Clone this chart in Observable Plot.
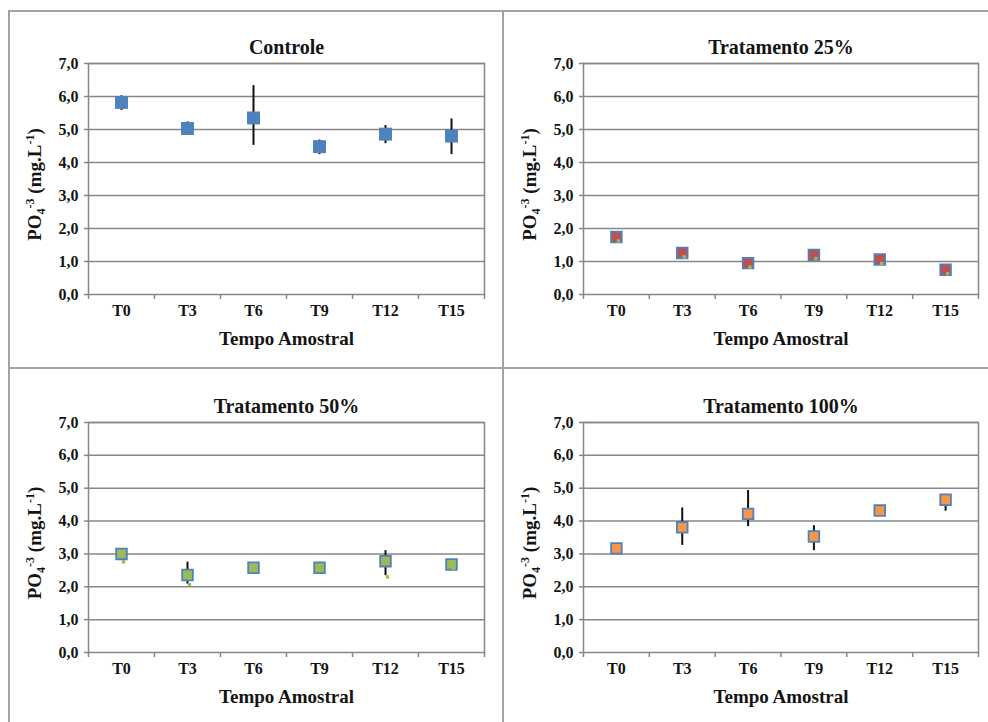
<!DOCTYPE html>
<html>
<head>
<meta charset="utf-8">
<script src="https://cdn.jsdelivr.net/npm/d3@7"></script>
<script src="https://cdn.jsdelivr.net/npm/@observablehq/plot@0.6"></script>
<style>
  body { margin: 0; background: #fff; width: 988px; height: 722px; overflow: hidden; position: relative; }
  .panel { position: absolute; }
  .panel svg, .panel svg text, .panel svg tspan { font-family: "Times New Roman", "Liberation Serif", Tinos, serif !important; }
  .sep { position: absolute; background: #a3a3a3; }
</style>
</head>
<body>
<div class="sep" style="left:9px;top:10px;width:979px;height:1.5px"></div>
<div class="sep" style="left:9px;top:367px;width:979px;height:1.5px"></div>
<div class="sep" style="left:8px;top:10px;width:1.5px;height:712px"></div>
<div class="sep" style="left:502px;top:10px;width:1.5px;height:712px"></div>
<div class="panel" id="p1" style="left:9px;top:11px"></div>
<div class="panel" id="p2" style="left:503px;top:11px"></div>
<div class="panel" id="p3" style="left:9px;top:368px"></div>
<div class="panel" id="p4" style="left:503px;top:368px"></div>

<script>
// Sampling times and y-axis ticks shared by all four panels
const times = ["T0", "T3", "T6", "T9", "T12", "T15"];
const yTicks = [0, 1, 2, 3, 4, 5, 6, 7];

// Controle: mean PO4 and error-bar extents (mg/L)
const controleMean  = [5.82, 5.03, 5.35, 4.48, 4.86, 4.80];
const controlePlus  = [0.20, 0.20, 0.98, 0.20, 0.26, 0.52];
const controleMinus = [0.24, 0.20, 0.83, 0.24, 0.29, 0.56];

// Tratamento 25%
const trat25Mean  = [1.74, 1.26, 0.95, 1.20, 1.06, 0.75];
const trat25Plus  = [0, 0, 0, 0, 0, 0];
const trat25Minus = [0, 0, 0, 0, 0, 0];
const trat25Green = [1.62, 1.14, 0.83, 1.09, 0.94, 0.63];

// Tratamento 50%
const trat50Mean  = [3.00, 2.36, 2.58, 2.58, 2.78, 2.68];
const trat50Plus  = [0, 0.39, 0, 0, 0.32, 0];
const trat50Minus = [0, 0.28, 0, 0, 0.44, 0];
const trat50Green = [2.76, 2.07, 2.50, 2.50, 2.30, 2.56];

// Tratamento 100%
const trat100Mean  = [3.17, 3.81, 4.22, 3.53, 4.32, 4.65];
const trat100Plus  = [0, 0.59, 0.71, 0.33, 0, 0.05];
const trat100Minus = [0, 0.55, 0.39, 0.43, 0, 0.35];

const gridColor = "#878787";
const ink = "#141414";
const fontStack = "Times New Roman, Liberation Serif, Tinos, serif";
const fmt = d => d.toFixed(1).replace(".", ",");

function panel(id, {title, mean, plus, minus, green, fill, stroke, width, height, ml, mr, mt, mb}) {
  const rows = times.map((t, i) => ({
    i, t, v: mean[i], lo: mean[i] - minus[i], hi: mean[i] + plus[i],
    g: green ? green[i] : null
  }));
  const px = d => d.i + 0.5;
  const svg = Plot.plot({
    width, height,
    marginLeft: ml, marginRight: mr, marginTop: mt, marginBottom: mb,
    style: {fontSize: "16px"},
    x: {domain: [0, times.length], axis: null},
    y: {domain: [0, 7], axis: null},
    marks: [
      Plot.gridY(yTicks.slice(1), {stroke: gridColor, strokeOpacity: 1, strokeWidth: 1.5}),
      Plot.frame({stroke: gridColor, strokeWidth: 1.5}),
      Plot.axisY(yTicks, {tickSize: 4, tickPadding: 6, tickFormat: fmt, stroke: gridColor, strokeWidth: 1.5, label: null, fill: ink, fontFamily: fontStack, fontSize: 16, fontWeight: "bold"}),
      Plot.axisX(d3.range(times.length + 1), {tickSize: 5, tickFormat: () => "", stroke: gridColor, strokeWidth: 1.5, label: null}),
      Plot.axisX(times.map((t, i) => i + 0.5), {tickSize: 0, tickPadding: 10, tickFormat: d => times[Math.floor(d)], label: null, fill: ink, fontFamily: fontStack, fontSize: 16, fontWeight: "bold"}),
      Plot.ruleX(rows.filter(d => d.hi > d.lo), {x: px, y1: "lo", y2: "hi", stroke: "#111", strokeWidth: 2}),
      Plot.dot(rows, {x: px, y: "v", symbol: "square", r: stroke ? 6.0 : 7.3, fill, stroke: stroke || "none", strokeWidth: 1.8}),
      green ? Plot.dot(rows, {x: px, y: "g", symbol: "square", r: 1.9, fill: "#9bbb59", dx: 2}) : null,
      Plot.text([title], {frameAnchor: "top", lineAnchor: "middle", dy: -16, fontSize: 20, fontWeight: "bold", fontFamily: fontStack, fill: ink}),
      Plot.text(["Tempo Amostral"], {frameAnchor: "bottom", lineAnchor: "middle", dy: 44, fontSize: 19, fontWeight: "bold", fontFamily: fontStack, fill: ink})
    ]
  });
  d3.select(svg).attr("font-family", fontStack);

  // Rotated y-axis title with sub/superscripts
  const cy = mt + (height - mt - mb) / 2 + 6;
  const t = d3.select(svg).append("text")
    .attr("transform", `translate(${ml - 47},${cy}) rotate(-90)`)
    .attr("text-anchor", "middle")
    .attr("font-family", fontStack)
    .attr("font-size", 19)
    .attr("font-weight", "bold")
    .attr("fill", ink);
  t.append("tspan").text("PO");
  t.append("tspan").attr("font-size", 12).attr("dy", 4).text("4");
  t.append("tspan").attr("font-size", 12).attr("dy", -11).text("-3");
  t.append("tspan").attr("dy", 7).text(" (mg.L");
  t.append("tspan").attr("font-size", 12).attr("dy", -7).text("-1");
  t.append("tspan").attr("dy", 7).text(")");

  document.getElementById(id).appendChild(svg);
}

panel("p1", {title: "Controle", mean: controleMean, plus: controlePlus, minus: controleMinus,
  fill: "#4f81bd", stroke: null, width: 494, height: 357, ml: 79, mr: 19, mt: 52, mb: 74});
panel("p2", {title: "Tratamento 25%", mean: trat25Mean, plus: trat25Plus, minus: trat25Minus, green: trat25Green,
  fill: "#c0504d", stroke: "#4f81bd", width: 485, height: 357, ml: 80, mr: 10, mt: 52, mb: 74});
panel("p3", {title: "Tratamento 50%", mean: trat50Mean, plus: trat50Plus, minus: trat50Minus, green: trat50Green,
  fill: "#9bbb59", stroke: "#4f81bd", width: 494, height: 354, ml: 79, mr: 19, mt: 54, mb: 70});
panel("p4", {title: "Tratamento 100%", mean: trat100Mean, plus: trat100Plus, minus: trat100Minus,
  fill: "#f79646", stroke: "#4f81bd", width: 485, height: 354, ml: 80, mr: 10, mt: 54, mb: 70});
</script>
</body>
</html>
